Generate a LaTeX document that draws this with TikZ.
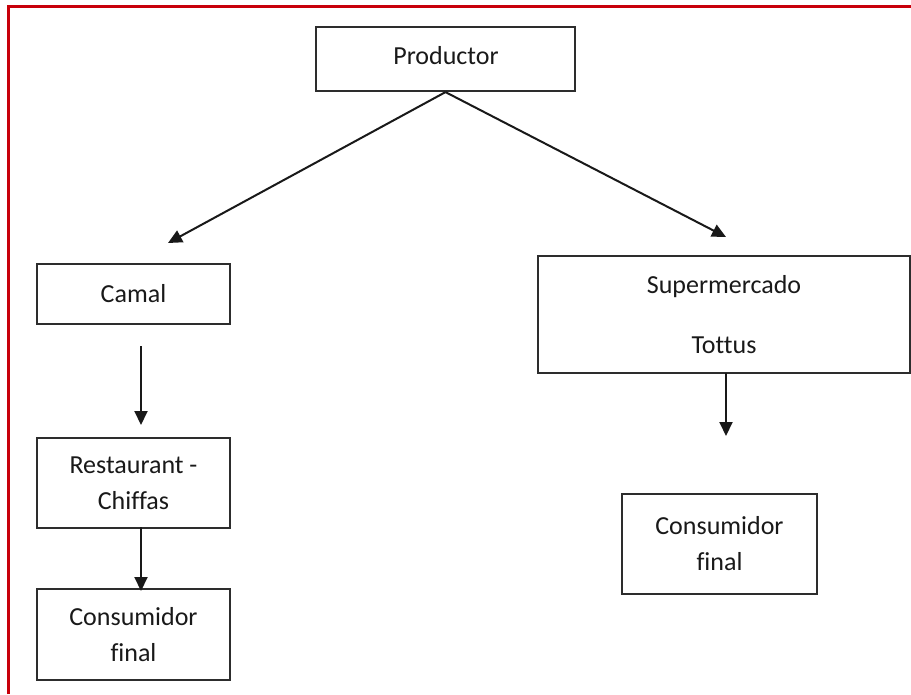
\documentclass[tikz,border=0pt]{standalone}
\usepackage{fontspec}
\setmainfont{Carlito}[Ligatures=NoCommon]
\usetikzlibrary{arrows.meta}
\definecolor{framered}{RGB}{200,0,10}
\definecolor{boxline}{RGB}{45,45,45}
\tikzset{
  box/.style={draw=boxline, line width=2.2pt, rectangle, inner sep=0pt,
    align=center, font=\fontsize{26}{36}\selectfont, text=black!90},
  flow/.style={draw=black!90, line width=2pt,
    -{Triangle[length=14pt,width=13pt]}},
}
\begin{document}
\begin{tikzpicture}[x=1pt,y=-1pt]
  \useasboundingbox (0,0) rectangle (911,694);
  % page frame (top and left edges)
  \draw[framered, line width=3pt] (8,694) -- (8,6.5) -- (911,6.5);

  % boxes
  \node[box, minimum width=259pt, minimum height=64pt] (prod) at (445.5,59) {};
  \node[font=\fontsize{26}{36}\selectfont, text=black!90, inner sep=0pt] (prodtext) at (446,56) {Productor};
  \node[box, minimum width=193pt, minimum height=60pt] (camal) at (133.5,294) {Camal};
  \node[box, minimum width=193pt, minimum height=90pt] (rest) at (133.5,483) {Restaurant -\\Chiffas};
  \node[box, minimum width=193pt, minimum height=91pt] (consA) at (133.5,634.5) {Consumidor\\final};
  \node[box, minimum width=372pt, minimum height=117pt] (super) at (724,314.5) {Supermercado\\[24pt]Tottus};
  \node[box, minimum width=195pt, minimum height=100pt] (consB) at (719.5,544) {Consumidor\\final};

  % free arrow ends
  \coordinate (toCamal) at (168,243);
  \coordinate (toSuper) at (726,237);
  \coordinate (camalOut) at (141,346);
  \coordinate (toRest) at (141,425);
  \coordinate (superOut) at (726,373);
  \coordinate (toConsB) at (726,436);
  \coordinate (restOut) at (141,527);
  \coordinate (toConsA) at (141,591);

  % connectors
  \draw[flow] (prod.south) -- (toCamal);
  \draw[flow] (prod.south) -- (toSuper);
  \draw[flow] (camalOut) -- (toRest);
  \draw[flow] (restOut) -- (toConsA);
  \draw[flow] (superOut) -- (toConsB);
\end{tikzpicture}
\end{document}
